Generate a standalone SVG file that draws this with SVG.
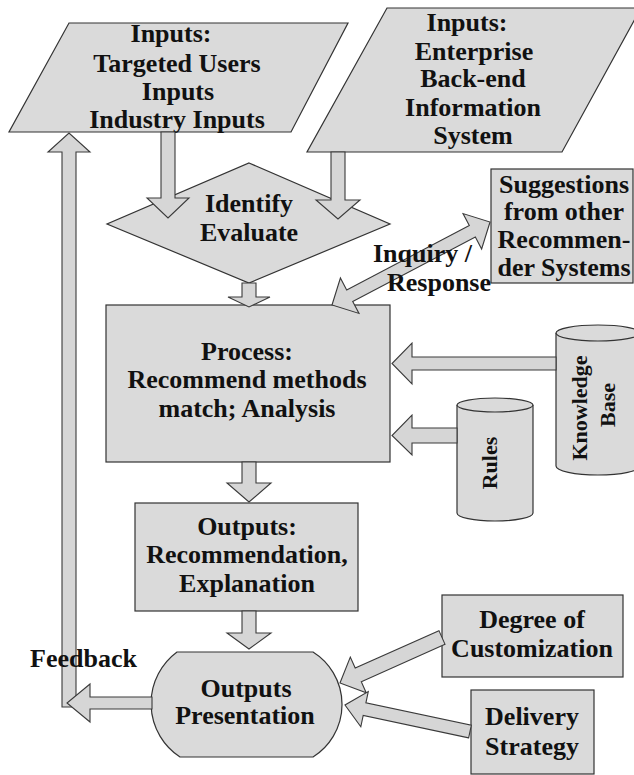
<svg xmlns="http://www.w3.org/2000/svg" width="634" height="775" viewBox="0 0 634 775">
  <style>
    .shape { fill: #dadada; stroke: #333; stroke-width: 1.2; }
    .arrow { fill: #d6d6d6; stroke: #3a3a3a; stroke-width: 1.1; stroke-linejoin: miter; }
    .lbl { font-family: "Liberation Serif", "Times New Roman", serif; font-weight: bold; font-size: 26px; fill: #111; text-anchor: middle; }
    .lbl-start { text-anchor: start; }
    .vlbl { font-size: 22px; }
  </style>

  <rect width="634" height="775" fill="#ffffff"/>

  <!-- Nodes -->
  <g id="inputs-users">
    <polygon class="shape" points="69,23 348,23 291,132 9,132"/>
    <text class="lbl" x="171" y="42">Inputs:</text>
    <text class="lbl" x="177" y="72">Targeted Users</text>
    <text class="lbl" x="178" y="100">Inputs</text>
    <text class="lbl" x="177" y="128">Industry Inputs</text>
  </g>

  <g id="inputs-enterprise">
    <polygon class="shape" points="387,8 641,8 562,152 307,152"/>
    <text class="lbl" x="467" y="31">Inputs:</text>
    <text class="lbl" x="474" y="60">Enterprise</text>
    <text class="lbl" x="473" y="87">Back-end</text>
    <text class="lbl" x="473" y="116">Information</text>
    <text class="lbl" x="473" y="144">System</text>
  </g>

  <g id="identify-evaluate">
    <polygon class="shape" points="249,163 390,224 249,283 107,224"/>
    <text class="lbl" x="249" y="212">Identify</text>
    <text class="lbl" x="249" y="241">Evaluate</text>
  </g>

  <g id="suggestions">
    <rect class="shape" x="491" y="169" width="142" height="114"/>
    <text class="lbl" x="564" y="193">Suggestions</text>
    <text class="lbl" x="564" y="220">from other</text>
    <text class="lbl" x="564" y="248">Recommen-</text>
    <text class="lbl" x="564" y="276">der Systems</text>
  </g>

  <g id="process">
    <rect class="shape" x="106" y="305" width="284" height="157"/>
    <text class="lbl" x="247" y="360">Process:</text>
    <text class="lbl" x="247" y="388">Recommend methods</text>
    <text class="lbl" x="247" y="417">match; Analysis</text>
  </g>

  <g id="knowledge-base">
    <path class="shape" d="M556,333 V466 A42,9 0 0 0 640,466 V333"/>
    <ellipse class="shape" cx="598" cy="333" rx="42" ry="8"/>
    <text class="lbl vlbl" transform="translate(587,408) rotate(-90)">Knowledge</text>
    <text class="lbl vlbl" transform="translate(615,405) rotate(-90)">Base</text>
  </g>

  <g id="rules">
    <path class="shape" d="M457,405 V513 A38,8 0 0 0 533,513 V405"/>
    <ellipse class="shape" cx="495" cy="405" rx="38" ry="7"/>
    <text class="lbl vlbl" transform="translate(497,463) rotate(-90)">Rules</text>
  </g>

  <g id="outputs">
    <rect class="shape" x="135" y="503" width="223" height="108"/>
    <text class="lbl" x="247" y="535">Outputs:</text>
    <text class="lbl" x="247" y="563">Recommendation,</text>
    <text class="lbl" x="247" y="592">Explanation</text>
  </g>

  <g id="degree">
    <rect class="shape" x="442" y="595" width="181" height="82"/>
    <text class="lbl" x="532" y="628">Degree of</text>
    <text class="lbl" x="532" y="657">Customization</text>
  </g>

  <g id="delivery">
    <rect class="shape" x="471" y="690" width="123" height="84"/>
    <text class="lbl" x="532" y="725">Delivery</text>
    <text class="lbl" x="532" y="755">Strategy</text>
  </g>

  <g id="presentation">
    <path class="shape" d="M177,652 H313 A62,62 0 0 1 313,757 H180 A64,64 0 0 1 177,652 Z"/>
    <text class="lbl" x="246" y="697">Outputs</text>
    <text class="lbl" x="245" y="724">Presentation</text>
  </g>

  <!-- Connectors: block arrows -->
  <g id="connectors">
    <!-- inputs to identify/evaluate -->
    <polygon class="arrow" points="161,132 175,132 175,198 189,198 168,218 147,198 161,198"/>
    <polygon class="arrow" points="331,152 345,152 345,200 360,200 338,219 316,200 331,200"/>
    <!-- identify/evaluate to process -->
    <polygon class="arrow" points="242,283 256,283 256,297 270,297 249,307 228,297 242,297"/>
    <!-- inquiry / response, double headed -->
    <polygon class="arrow" transform="translate(332,305) rotate(-27.71)"
             points="0,0 20,-20 20,-6.5 158.5,-6.5 158.5,-20 178.5,0 158.5,20 158.5,6.5 20,6.5 20,20"/>
    <!-- knowledge base and rules to process -->
    <polygon class="arrow" points="556,357 412,357 412,343 392,363.5 412,384 412,370 556,370"/>
    <polygon class="arrow" points="457,428 412,428 412,415 392,435.5 412,455 412,443 457,443"/>
    <!-- process to outputs -->
    <polygon class="arrow" points="242,462 256,462 256,483 271,483 249,502 227,483 242,483"/>
    <!-- outputs to presentation -->
    <polygon class="arrow" points="242,611 256,611 256,633 271,633 249,649 227,633 242,633"/>
    <!-- customization and delivery to presentation -->
    <polygon class="arrow" transform="translate(442,637.5) rotate(155.96)"
             points="0,-7.5 91.7,-7.5 91.7,-19.5 111.7,0 91.7,19.5 91.7,7.5 0,7.5"/>
    <polygon class="arrow" transform="translate(470,731.5) rotate(191.97)"
             points="0,-6.5 107.8,-6.5 107.8,-18 127.8,0 107.8,18 107.8,6.5 0,6.5"/>
    <!-- feedback loop -->
    <polygon class="arrow" points="62,707 62,152 48,152 69,133 90,152 76,152 76,707"/>
    <polygon class="arrow" points="152,697 90,697 90,684 67,703 90,722 90,709 152,709"/>
  </g>

  <!-- Connector labels -->
  <text class="lbl lbl-start" x="373" y="262">Inquiry /</text>
  <text class="lbl lbl-start" x="387" y="291">Response</text>
  <text class="lbl lbl-start" x="30" y="667">Feedback</text>
</svg>
